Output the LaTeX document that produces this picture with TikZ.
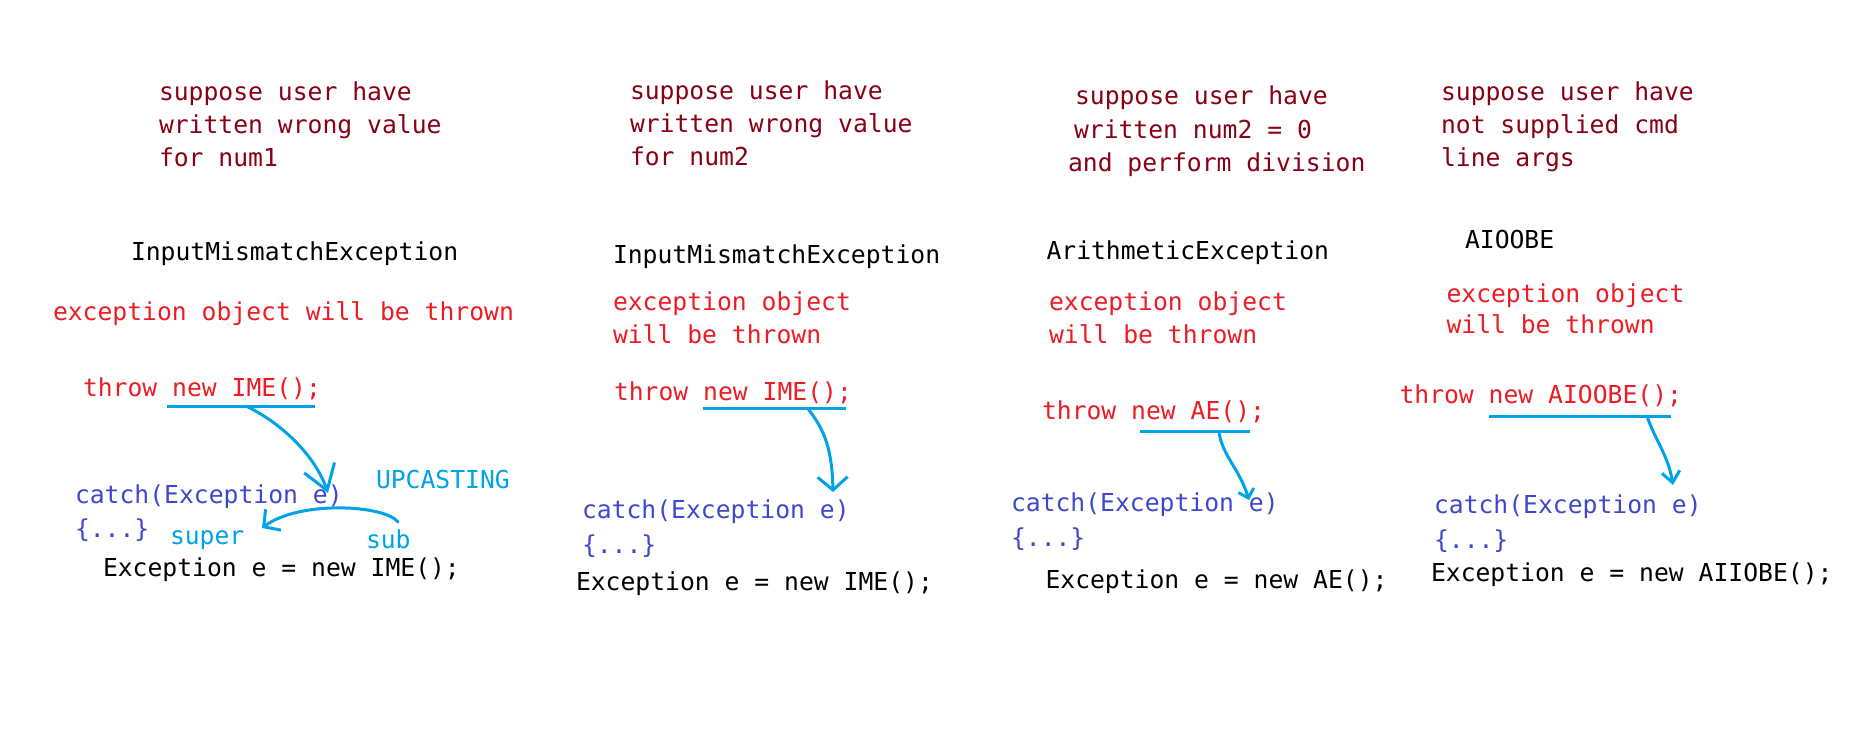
\documentclass[tikz,border=0pt]{standalone}
\usepackage{fontspec}
\newfontfamily\codefont{DejaVu Sans Mono}
\usetikzlibrary{arrows.meta}
\definecolor{dred}{HTML}{880015}
\definecolor{pred}{HTML}{ED1C24}
\definecolor{indig}{HTML}{3F48CC}
\definecolor{tq}{HTML}{00A2E8}
\begin{document}
\begin{tikzpicture}[x=1pt,y=-1pt,
  txt/.style={anchor=base west,inner sep=0pt,outer sep=0pt,font=\codefont\fontsize{24.7}{30}\selectfont},
  note/.style={txt,text=dred},
  exc/.style={txt,text=black},
  warn/.style={txt,text=pred},
  catchtxt/.style={txt,text=indig},
  cyantxt/.style={txt,text=tq},
  uline/.style={draw=tq,line width=3pt},
  hand/.style={draw=tq,line width=3pt,line cap=round,line join=round}]
\useasboundingbox[fill=white] (0,0) rectangle (1852,743);

% ---------- block 1 ----------
\node[note] (a1) at (159,100.7) {suppose user have};
\node[note] (a2) at (159,133.3) {written wrong value};
\node[note] (a3) at (159,166.7) {for num1};
\node[exc] (ae) at (131,260.7) {InputMismatchException};
\node[warn] (aw) at (53,320) {exception object will be thrown};
\node[warn] (at) at (83,396.7) {throw new IME();};
\node[catchtxt] (ac) at (75,503.3) {catch(Exception e)};
\node[catchtxt] (ab) at (75,537) {\{...\}};
\node[cyantxt] (aup) at (376,488.3) {UPCASTING};
\node[cyantxt] (asuper) at (170,544) {super};
\node[cyantxt] (asub) at (366,548.3) {sub};
\node[exc] (aa) at (103,576.7) {Exception e = new IME();};
\coordinate (ua1) at (167,406);
\coordinate (ua2) at (315,406);
\coordinate (ua0) at (246,406);
\coordinate (ta) at (328,493);
\coordinate (upa) at (398,522);
\coordinate (upb) at (262,528);
\draw[uline] (ua1) -- (ua2);
\draw[hand,-{Straight Barb[length=24pt,width=32pt]}] (ua0) .. controls (285,425) and (316,458) .. (ta);
\draw[hand,-{Straight Barb[length=12pt,width=26pt]}] (upa) .. controls (385,505) and (300,500) .. (upb);

% ---------- block 2 ----------
\node[note] (b1) at (630,100) {suppose user have};
\node[note] (b2) at (630,132.7) {written wrong value};
\node[note] (b3) at (630,166) {for num2};
\node[exc] (be) at (613,263.3) {InputMismatchException};
\node[warn] (bw1) at (613,310) {exception object};
\node[warn] (bw2) at (613,343) {will be thrown};
\node[warn] (bt) at (614,400.7) {throw new IME();};
\node[catchtxt] (bc) at (582,518.3) {catch(Exception e)};
\node[catchtxt] (bb) at (582,553) {\{...\}};
\node[exc] (ba) at (576,590) {Exception e = new IME();};
\coordinate (ub1) at (703.3,408.3);
\coordinate (ub2) at (846,408.3);
\coordinate (ub0) at (808,409);
\coordinate (tb) at (833,492);
\draw[uline] (ub1) -- (ub2);
\draw[hand,-{Straight Barb[length=13pt,width=30pt]}] (ub0) .. controls (825,430) and (832,450) .. (tb);

% ---------- block 3 ----------
\node[note] (c1) at (1075,105) {suppose user have};
\node[note] (c2) at (1074,138.3) {written num2 = 0};
\node[note] (c3) at (1068,171.7) {and perform division};
\node[exc] (ce) at (1046.5,260) {ArithmeticException};
\node[warn] (cw1) at (1049,310) {exception object};
\node[warn] (cw2) at (1049,343) {will be thrown};
\node[warn] (ct) at (1042,419) {throw new AE();};
\node[catchtxt] (cc) at (1011,511.7) {catch(Exception e)};
\node[catchtxt] (cb) at (1011,546.7) {\{...\}};
\node[exc] (ca) at (1045.5,588.3) {Exception e = new AE();};
\coordinate (uc1) at (1140,431);
\coordinate (uc2) at (1250,431);
\coordinate (uc0) at (1219,432);
\coordinate (tc) at (1249,500);
\draw[uline] (uc1) -- (uc2);
\draw[hand,-{Straight Barb[length=8pt,width=16pt]}] (uc0) .. controls (1222,455) and (1240,470) .. (tc);

% ---------- block 4 ----------
\node[note] (d1) at (1441,100.7) {suppose user have};
\node[note] (d2) at (1441,133.3) {not supplied cmd};
\node[note] (d3) at (1441,166.7) {line args};
\node[exc] (de) at (1465,248.3) {AIOOBE};
\node[warn] (dw1) at (1446.5,302.7) {exception object};
\node[warn] (dw2) at (1446.5,334) {will be thrown};
\node[warn] (dt) at (1399.5,403.3) {throw new AIOOBE();};
\node[catchtxt] (dc) at (1434,513.3) {catch(Exception e)};
\node[catchtxt] (db) at (1434,548.3) {\{...\}};
\node[exc] (da) at (1431,581.7) {Exception e = new AIIOBE();};
\coordinate (ud1) at (1489.3,416);
\coordinate (ud2) at (1670.7,416);
\coordinate (ud0) at (1647,416);
\coordinate (td) at (1673,485);
\draw[uline] (ud1) -- (ud2);
\draw[hand,-{Straight Barb[length=11pt,width=18pt]}] (ud0) .. controls (1655,440) and (1668,455) .. (td);
\end{tikzpicture}
\end{document}
